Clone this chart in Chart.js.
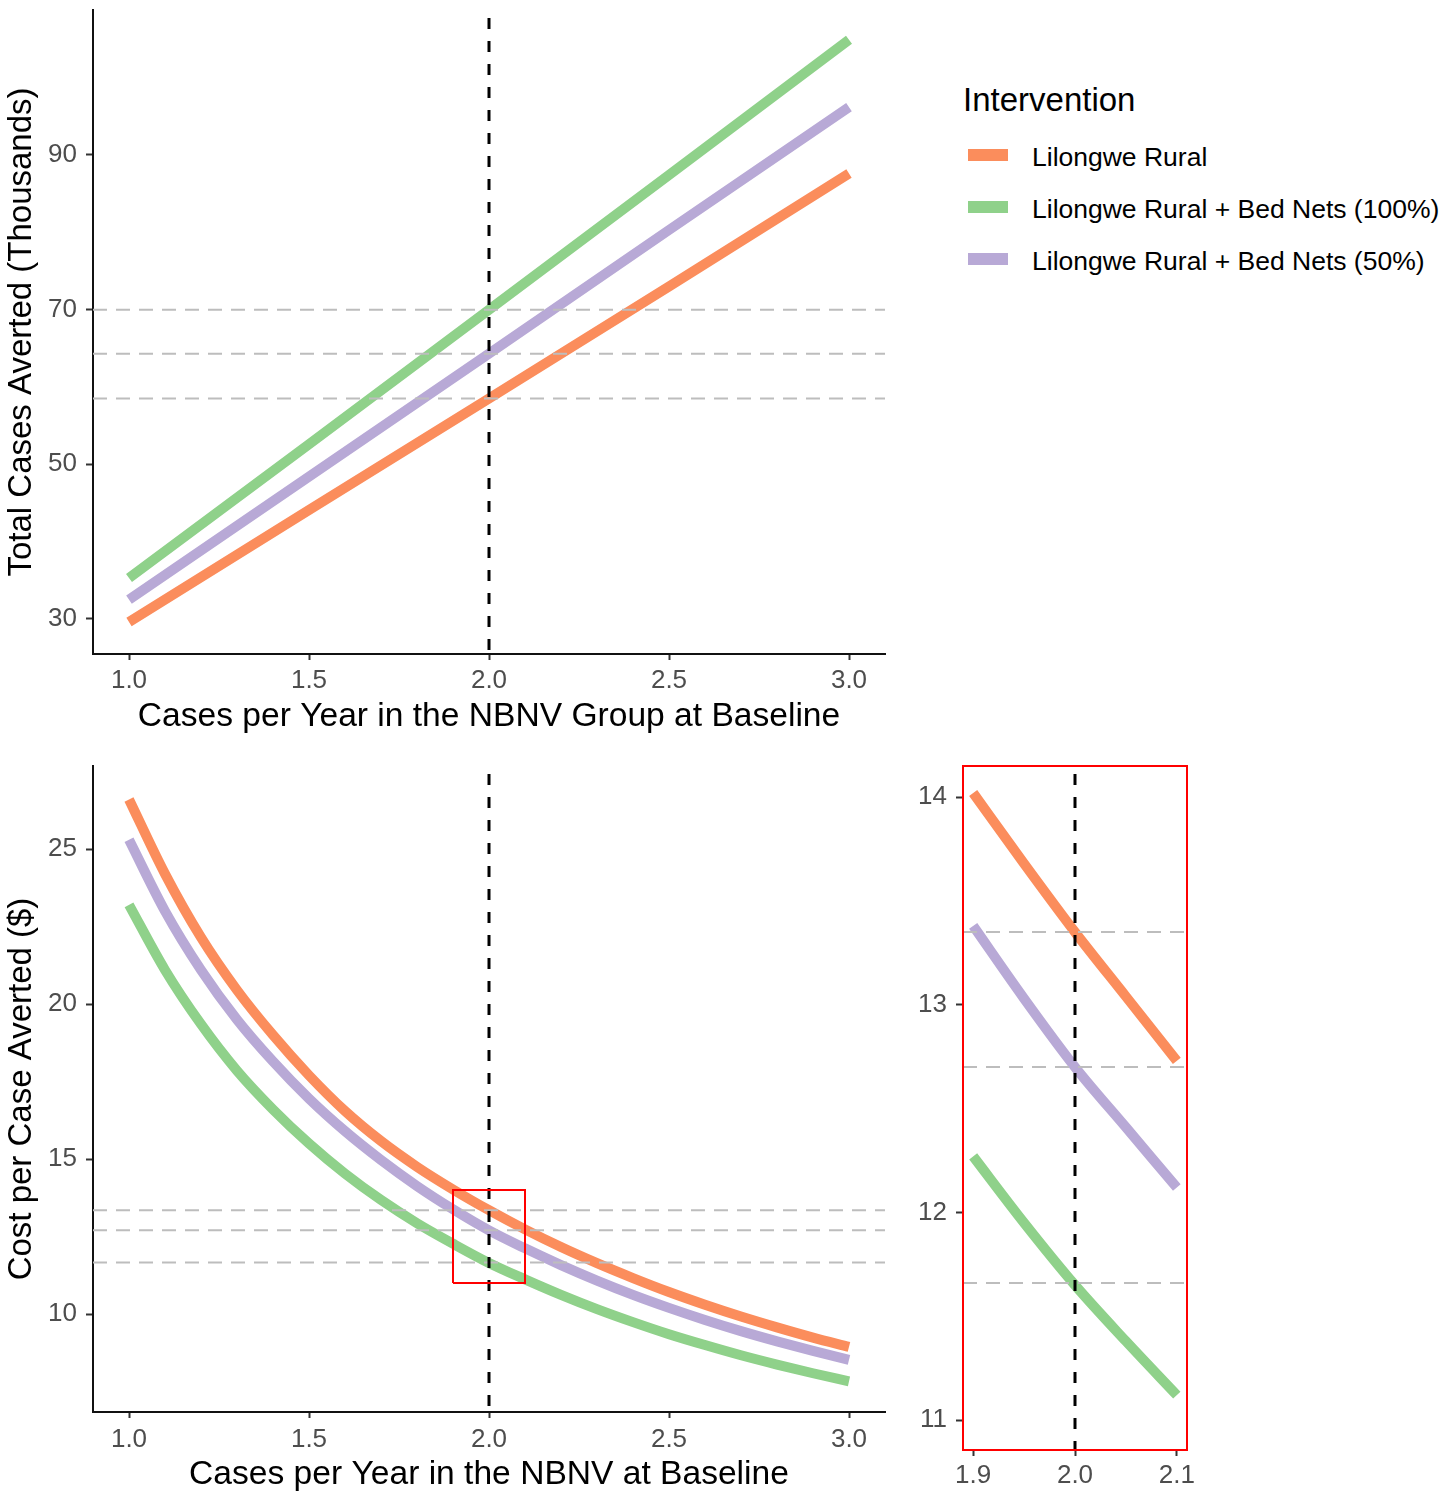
<!DOCTYPE html>
<html><head><meta charset="utf-8">
<script src="https://cdn.jsdelivr.net/npm/chart.js@4.4.1/dist/chart.umd.min.js"></script>
<style>
body{margin:0;background:#fff;width:1446px;height:1500px;position:relative;overflow:hidden;font-family:"Liberation Sans",Arial,sans-serif;}
.box{position:absolute;}
.lg{position:absolute;white-space:nowrap;color:#000;}
.key{position:absolute;width:40px;height:12px;}
</style></head><body>
<div class="box" style="left:0;top:0;"><canvas id="c1" width="900" height="740"></canvas></div>
<div class="box" style="left:0;top:750px;"><canvas id="c2" width="900" height="750"></canvas></div>
<div class="box" style="left:880px;top:750px;"><canvas id="c3" width="340" height="750"></canvas></div>
<div id="legend"></div>
<script>
// ---------- data ----------
const seriesNames = ['Lilongwe Rural', 'Lilongwe Rural + Bed Nets (100%)', 'Lilongwe Rural + Bed Nets (50%)'];
const legendTitle = 'Intervention';

const casesX = [1.0, 1.5, 2.0, 2.5, 3.0];
const casesRural = [29.6, 44.1, 58.5, 73.0, 87.6];
const casesNets100 = [35.3, 52.6, 70.0, 87.4, 104.9];
const casesNets50 = [32.5, 48.4, 64.3, 80.3, 96.2];

const costX = [1.0, 1.1, 1.2, 1.3, 1.4, 1.5, 1.6, 1.7, 1.8, 1.9, 2.0, 2.1, 2.2, 2.3, 2.4, 2.5, 2.6, 2.7, 2.8, 2.9, 3.0];
const costRural = [26.6, 24.2, 22.15, 20.45, 19.0, 17.7, 16.55, 15.58, 14.75, 14.02, 13.35, 12.73, 12.16, 11.64, 11.16, 10.71, 10.3, 9.92, 9.57, 9.24, 8.94];
const costNets100 = [23.2, 21.1, 19.35, 17.85, 16.6, 15.5, 14.53, 13.68, 12.93, 12.27, 11.65, 11.12, 10.62, 10.16, 9.74, 9.35, 9.0, 8.67, 8.37, 8.09, 7.83];
const costNets50 = [25.3, 23.0, 21.1, 19.5, 18.15, 16.95, 15.9, 14.97, 14.13, 13.38, 12.7, 12.12, 11.58, 11.08, 10.62, 10.2, 9.81, 9.45, 9.12, 8.81, 8.52];

const insetX = [1.9, 1.95, 2.0, 2.05, 2.1];
const insetRural = [14.02, 13.68, 13.35, 13.04, 12.73];
const insetNets100 = [12.27, 11.95, 11.65, 11.38, 11.12];
const insetNets50 = [13.38, 13.03, 12.7, 12.41, 12.12];

const refX = 2.0;
const casesRef = [70.0, 64.3, 58.5];
const costRef = [13.35, 12.7, 11.66];
const zoomBoxX = [1.9, 2.1];
const zoomBoxY = [11, 14];

const mainXTicks = [1.0, 1.5, 2.0, 2.5, 3.0];
const casesYTicks = [30, 50, 70, 90];
const costYTicks = [10, 15, 20, 25];
const insetXTicks = [1.9, 2.0, 2.1];
const insetYTicks = [11, 12, 13, 14];

const xTitleTop = 'Cases per Year in the NBNV Group at Baseline';
const yTitleTop = 'Total Cases Averted (Thousands)';
const xTitleBottom = 'Cases per Year in the NBNV at Baseline';
const yTitleBottom = 'Cost per Case Averted ($)';

// ---------- styles ----------
const FONT = '"Liberation Sans", Arial, sans-serif';
const COLORS = ['#FB8D5C', '#8FD18A', '#B8A9D6'];
const REF_GRAY = '#BDBDBD';

function pts(xs, ys) { return xs.map((x, i) => ({x: x, y: ys[i]})); }

function curve(xs, ys, i, smooth) {
  return {label: seriesNames[i], data: pts(xs, ys), borderColor: COLORS[i], borderWidth: 10,
    pointRadius: 0, borderCapStyle: 'butt', fill: false, order: 10,
    tension: smooth ? 0.4 : 0, cubicInterpolationMode: smooth ? 'monotone' : 'default'};
}
function hRef(v, x0, x1) {
  return {label: 'ref', data: [{x: x0, y: v}, {x: x1, y: v}], borderColor: REF_GRAY, borderWidth: 2,
    borderDash: [14, 9], pointRadius: 0, fill: false, order: 5};
}
function vRef(x, y0, y1) {
  return {label: 'vref', data: [{x: x, y: y1}, {x: x, y: y0}], borderColor: '#000', borderWidth: 3,
    borderDash: [11, 12], borderDashOffset: -8, pointRadius: 0, fill: false, order: 3};
}
function zeroPad(s) { s.paddingTop = 0; s.paddingBottom = 0; s.paddingLeft = 0; s.paddingRight = 0; }

function xScale(min, max, ticks, title, tickPad, titlePad, h, border) {
  return {type: 'linear', min: min, max: max,
    afterBuildTicks: s => { s.ticks = ticks.map(v => ({value: v})); },
    afterFit: s => { s.height = h; zeroPad(s); },
    grid: {drawOnChartArea: false, drawTicks: true, tickLength: 6, tickWidth: 2, tickColor: '#333'},
    border: {display: border, color: '#111', width: 2},
    ticks: {color: '#4d4d4d', font: {size: 26, family: FONT}, padding: tickPad, maxRotation: 0, autoSkip: false,
      callback: v => Number(v).toFixed(1)},
    title: title ? {display: true, text: title, color: '#000', font: {size: 33.6, family: FONT}, padding: {top: 0, bottom: titlePad}} : {display: false}
  };
}
function yScale(min, max, ticks, title, w, border) {
  return {type: 'linear', min: min, max: max,
    afterBuildTicks: s => { s.ticks = ticks.map(v => ({value: v})); },
    afterFit: s => { s.width = w; zeroPad(s); },
    grid: {drawOnChartArea: false, drawTicks: true, tickLength: 7, tickWidth: 2, tickColor: '#333'},
    border: {display: border, color: '#111', width: 2},
    ticks: {color: '#4d4d4d', font: {size: 26, family: FONT}, padding: 9, autoSkip: false,
      callback: v => String(v)},
    title: title ? {display: true, text: title, color: '#000', font: {size: 33, family: FONT}, padding: {top: 2, bottom: 0}} : {display: false}
  };
}
const frame = {id: 'frame', afterDatasetsDraw(c, a, o) {
  if (!o.color) return;
  const ca = c.chartArea, ctx = c.ctx;
  ctx.save(); ctx.strokeStyle = o.color; ctx.lineWidth = 2;
  ctx.strokeRect(ca.left, ca.top, ca.right - ca.left, ca.bottom - ca.top); ctx.restore();
}};
Chart.register(frame);

function baseOpts(pad, scales, frameColor) {
  return {responsive: false, animation: false, layout: {padding: pad},
    plugins: {legend: {display: false}, tooltip: {enabled: false}, frame: {color: frameColor}},
    scales: scales};
}

// ---------- top chart ----------
const t = {xmin: 0.9, xmax: 3.1, ymin: 25.47, ymax: 108.75};
new Chart(document.getElementById('c1'), {type: 'line',
  data: {datasets: [
    curve(casesX, casesRural, 0, false), curve(casesX, casesNets100, 1, false), curve(casesX, casesNets50, 2, false),
    ...casesRef.map(v => hRef(v, t.xmin, t.xmax)),
    vRef(refX, t.ymin, t.ymax)
  ]},
  options: baseOpts({top: 10, right: 15, left: 0, bottom: 0}, {
    x: xScale(t.xmin, t.xmax, mainXTicks, xTitleTop, 5, 3, 86, true),
    y: yScale(t.ymin, t.ymax, casesYTicks, yTitleTop, 93, true)
  }, null)
});

// ---------- bottom chart ----------
const b = {xmin: 0.9, xmax: 3.1, ymin: 6.84, ymax: 27.68};
new Chart(document.getElementById('c2'), {type: 'line',
  data: {datasets: [
    curve(costX, costRural, 0, true), curve(costX, costNets100, 1, true), curve(costX, costNets50, 2, true),
    ...costRef.map(v => hRef(v, b.xmin, b.xmax)),
    vRef(refX, b.ymin, b.ymax),
    {label: 'zoom', data: [{x: zoomBoxX[0], y: zoomBoxY[0]}, {x: zoomBoxX[1], y: zoomBoxY[0]}, {x: zoomBoxX[1], y: zoomBoxY[1]},
      {x: zoomBoxX[0], y: zoomBoxY[1]}, {x: zoomBoxX[0], y: zoomBoxY[0]}],
      borderColor: '#FF0000', borderWidth: 2, pointRadius: 0, fill: false, borderJoinStyle: 'miter', order: 1}
  ]},
  options: baseOpts({top: 16, right: 15, left: 0, bottom: 0}, {
    x: xScale(b.xmin, b.xmax, mainXTicks, xTitleBottom, 6, 5, 88, true),
    y: yScale(b.ymin, b.ymax, costYTicks, yTitleBottom, 93, true)
  }, null)
});

// ---------- inset chart ----------
const z = {xmin: 1.89, xmax: 2.11, ymin: 10.856, ymax: 14.15};
new Chart(document.getElementById('c3'), {type: 'line',
  data: {datasets: [
    curve(insetX, insetRural, 0, true), curve(insetX, insetNets100, 1, true), curve(insetX, insetNets50, 2, true),
    ...costRef.map(v => hRef(v, z.xmin, z.xmax)),
    vRef(refX, z.ymin, z.ymax)
  ]},
  options: baseOpts({top: 16, right: 33, left: 0, bottom: 0}, {
    x: xScale(z.xmin, z.xmax, insetXTicks, null, 4, 0, 50, false),
    y: yScale(z.ymin, z.ymax, insetYTicks, null, 83, false)
  }, '#FF0000')
});

// ---------- legend (HTML text) ----------
const lg = document.getElementById('legend');
const title = document.createElement('div');
title.className = 'lg'; title.textContent = legendTitle;
title.style.cssText = 'left:963px;top:83px;font-size:33px;line-height:33px;';
lg.appendChild(title);
const rowY = [155, 207, 259];
seriesNames.forEach((n, i) => {
  const k = document.createElement('div'); k.className = 'key';
  k.style.left = '968px'; k.style.top = (rowY[i] - 6) + 'px'; k.style.background = COLORS[i];
  lg.appendChild(k);
  const l = document.createElement('div'); l.className = 'lg'; l.textContent = n;
  l.style.cssText = 'left:1032px;top:' + (rowY[i] + 2 - 13) + 'px;font-size:26.5px;line-height:26px;';
  lg.appendChild(l);
});
</script>
</body></html>
